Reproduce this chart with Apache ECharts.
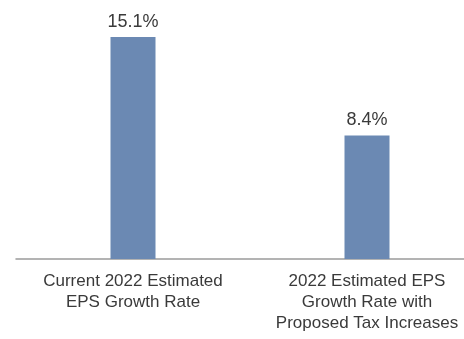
<!DOCTYPE html>
<html>
<head>
<meta charset="utf-8">
<script src="https://cdn.jsdelivr.net/npm/echarts@6/dist/echarts.min.js"></script>
<style>
  html, body { margin: 0; padding: 0; background: #ffffff; overflow: hidden; }
  #frame { width: 464px; height: 339px; overflow: hidden; }
  /* the canvas runs a little past the right edge; the frame crops it */
  #chart { width: 484px; height: 339px; }
</style>
</head>
<body>
<div id="frame"><div id="chart"></div></div>
<script>
// EPS growth rate estimates for 2022
const categories = [
  'Current 2022 Estimated\nEPS Growth Rate',
  '2022 Estimated EPS\nGrowth Rate with\nProposed Tax Increases'
];
const growthRates = [15.1, 8.4];

const chart = echarts.init(document.getElementById('chart'));
const font = '"Liberation Sans", Arial, sans-serif';

chart.setOption({
  animation: false,
  grid: { left: 16, right: 0, top: 37, bottom: 80 },
  xAxis: {
    type: 'category',
    data: categories,
    axisLine: { lineStyle: { color: '#9a9a9a', width: 1.5 } },
    axisTick: { show: false },
    axisLabel: {
      interval: 0,
      margin: 12,
      color: '#3a3a3a',
      fontFamily: font,
      fontSize: 17,
      lineHeight: 21
    }
  },
  yAxis: {
    type: 'value',
    min: 0,
    max: 15.1,
    show: false,
    splitLine: { show: false }
  },
  series: [{
    type: 'bar',
    data: growthRates,
    barWidth: 45,
    itemStyle: { color: '#6b89b3' },
    label: {
      show: true,
      position: 'top',
      distance: 6,
      color: '#3a3a3a',
      fontFamily: font,
      fontSize: 18,
      formatter: p => p.value.toFixed(1) + '%'
    }
  }]
});
</script>
</body>
</html>
